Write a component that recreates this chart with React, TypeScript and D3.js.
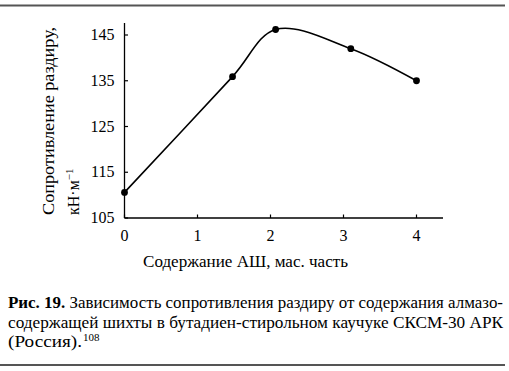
import React from "react";
import * as d3 from "d3";

const xValues = [0, 1.48, 2.07, 3.1, 4];
const yValues = [110.6, 135.9, 146.2, 142, 135];
const xTicks = [0, 1, 2, 3, 4];
const yTicks = [105, 115, 125, 135, 145];
const xLabel = "Содержание АШ, мас. часть";
const yLabel1 = "Сопротивление раздиру,";
const captionLines = [
  "Зависимость сопротивления раздиру от содержания алмазо-",
  "содержащей шихты в бутадиен-стирольном каучуке СКСМ-30 АРК",
  "(Россия).",
];

function T(props: any) {
  const { children, ...rest } = props;
  return (
    <text fontFamily="Liberation Serif" style={{ fontFamily: '"Liberation Serif"' }} {...rest}>
      {children}
    </text>
  );
}

export default function App() {
  const W = 509, H = 371;
  const x = d3.scaleLinear().domain([0, 4]).range([124.5, 416.5]);
  const y = d3.scaleLinear().domain([105, 145]).range([218, 35]);
  const pts = xValues.map((v, i) => [x(v), y(yValues[i])] as [number, number]);
  const line = d3.line().curve(d3.curveCatmullRom.alpha(0.5))(pts) || "";
  return (
    <svg width={W} height={H} style={{ position: "absolute", left: 0, top: 0, background: "#fff" }}>
      <style>{`text, tspan { font-family: "Liberation Serif", "Tinos", "Times New Roman"; }`}</style>
      <rect x={0} y={0} width={W} height={H} fill="#fff" />
      <line x1={0} x2={505} y1={5.5} y2={5.5} stroke="#555" strokeWidth={2} />
      <line x1={0} x2={505} y1={365} y2={365} stroke="#555" strokeWidth={2} />
      <line x1={x(0)} x2={x(0)} y1={23} y2={218} stroke="#000" strokeWidth={1.3} />
      <line x1={x(0)} x2={443} y1={218} y2={218} stroke="#000" strokeWidth={1.3} />
      {yTicks.map((t) => (
        <g key={"y" + t}>
          <line x1={x(0)} x2={x(0) + 3.5} y1={y(t)} y2={y(t)} stroke="#000" strokeWidth={1.2} />
          <T x={114.5} y={y(t) + 5} textAnchor="end" fontSize={16}>{t}</T>
        </g>
      ))}
      {xTicks.map((t) => (
        <g key={"x" + t}>
          <line x1={x(t)} x2={x(t)} y1={218} y2={214.5} stroke="#000" strokeWidth={1.2} />
          <T x={x(t)} y={240.5} textAnchor="middle" fontSize={16}>{t}</T>
        </g>
      ))}
      <path d={line} fill="none" stroke="#000" strokeWidth={1.6} />
      {pts.map((p, i) => (
        <circle key={i} cx={p[0]} cy={p[1]} r={3.4} fill="#000" />
      ))}
      <T x={143} y={267} fontSize={16} textLength={205} lengthAdjust="spacingAndGlyphs">{xLabel}</T>
      <T transform="translate(53.5,215) rotate(-90)" fontSize={16} textLength={188} lengthAdjust="spacingAndGlyphs">{yLabel1}</T>
      <T transform="translate(78.5,215) rotate(-90)" fontSize={16}>
        кН·м<tspan dy={-6} fontSize={11}>−1</tspan>
      </T>
      <T x={8} y={307.5} fontSize={16} textLength={495} lengthAdjust="spacingAndGlyphs">
        <tspan fontWeight="bold">Рис. 19.</tspan> {captionLines[0]}
      </T>
      <T x={8} y={327.5} fontSize={16} textLength={495} lengthAdjust="spacingAndGlyphs">{captionLines[1]}</T>
      <T x={8} y={347} fontSize={16} textLength={74} lengthAdjust="spacingAndGlyphs">{captionLines[2]}</T>
      <T x={83} y={341} fontSize={11}>108</T>
    </svg>
  );
}
